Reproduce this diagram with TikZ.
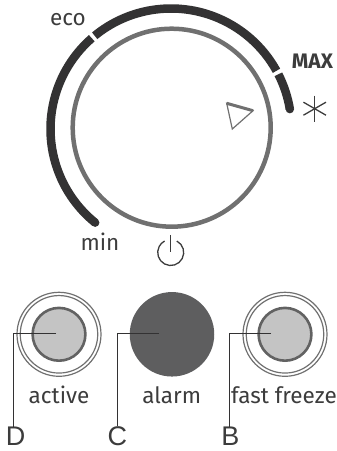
\documentclass[tikz,border=0pt]{standalone}
\usepackage{fontspec}
\usepackage{tikz}
\setmainfont{Fira Sans}
\newfontfamily\leaderfont{Liberation Sans}
\definecolor{scaleDark}{RGB}{51,50,51}
\definecolor{ringGrey}{RGB}{112,112,112}
\definecolor{coreFill}{RGB}{196,196,196}
\definecolor{coreLine}{RGB}{98,98,98}
\definecolor{alarmFill}{RGB}{94,94,95}
\definecolor{textDark}{RGB}{60,60,60}

\begin{document}
\begin{tikzpicture}[x=1pt, y=1pt]%
  \tikzset{dialarc/.style={draw=scaleDark, line width=8.5pt}}
  \tikzset{thinline/.style={draw=textDark, line width=1.3pt}}
  \tikzset{leader/.style={draw=scaleDark, line width=1pt}}
  \tikzstyle{every node}=[inner sep=0pt, outer sep=0pt, text=textDark]
  \tikzset{caption/.style={anchor=base, font=\fontsize{22.5}{24}\selectfont}}
  \tikzset{letter/.style={anchor=base, font=\leaderfont\fontsize{27}{30}\selectfont}}
  \tikzset{ringout/.style={circle, draw=ringGrey, line width=1.2pt, minimum size=84pt}}
  \tikzset{ringin/.style={circle, draw=ringGrey, line width=1.2pt, minimum size=77.5pt}}
  \tikzset{ledcore/.style={circle, draw=coreLine, fill=coreFill, line width=2.6pt, minimum size=52.8pt}}
  \useasboundingbox (0,0) rectangle (337,451);

  \coordinate (scaleC) at (171,322);
  \node[circle, draw=ringGrey, line width=4.5pt, minimum size=198pt] (knob) at (171.7,323.3) {};

  \draw[dialarc] ([shift={(231:120.5pt)}]scaleC) arc[start angle=231, end angle=131.1, radius=120.5pt];
  \draw[dialarc] ([shift={(129.3:120.5pt)}]scaleC) arc[start angle=129.3, end angle=28.9, radius=120.5pt];
  \draw[dialarc] ([shift={(27:120.5pt)}]scaleC) arc[start angle=27, end angle=9.5, radius=120.5pt];
  \fill[scaleDark] ([shift={(231:120.5pt)}]scaleC) circle (4.25pt);
  \fill[scaleDark] ([shift={(9.5:120.5pt)}]scaleC) circle (4.25pt);

  \coordinate (triA) at (226.7,347.7);
  \coordinate (triB) at (253,340.3);
  \coordinate (triC) at (232.3,322);
  \draw[draw=ringGrey, line width=1.2pt, line join=miter] (triA) -- (triB) -- (triC) -- cycle;
  \draw[draw=ringGrey, line width=3pt] (triA) -- (triB);

  \coordinate (star) at (314.7,342.3);
  \foreach \ang in {90,30,150} {
    \draw[thinline] ([shift={(\ang:13pt)}]star) -- ([shift={(\ang+180:13pt)}]star);
  }

  \coordinate (power) at (170.7,198.5);
  \draw[thinline] ([shift={(62:13pt)}]power) arc[start angle=62, end angle=-242, radius=13pt];
  \draw[thinline] (170.7,216) -- (power);

  \node[caption] (eco) at (68,425.7) {eco};
  \node[caption, font=\bfseries\fontsize{21}{24}\selectfont] (max) at (312.5,382.7) {MAX};
  \node[caption] (min) at (100,200.3) {min};

  \node[ringout] (activeO) at (59,116.7) {};
  \node[ringin] (activeI) at (59,116.7) {};
  \node[ledcore] (activeL) at (59,116.7) {};
  \node[circle, fill=alarmFill, minimum size=84.5pt] (alarmL) at (172,116.7) {};
  \node[ringout] (freezeO) at (285,116.7) {};
  \node[ringin] (freezeI) at (285,116.7) {};
  \node[ledcore] (freezeL) at (285,116.7) {};

  \node[caption] (active) at (59,47) {active};
  \node[caption] (alarm) at (171.7,47) {alarm};
  \node[caption] (freeze) at (284,47) {fast freeze};

  \node[letter] (D) at (15.5,5.8) {D};
  \node[letter] (C) at (117.3,5.8) {C};
  \node[letter] (B) at (230.5,5.8) {B};

  \coordinate (leadD) at (56,117);
  \coordinate (leadC) at (159,117);
  \coordinate (leadB) at (271,117);
  \draw[leader] (leadD) -| ([xshift=-1.8pt]D.north);
  \draw[leader] (leadC) -| (C.north);
  \draw[leader] (leadB) -| ([xshift=-1.2pt]B.north);
\end{tikzpicture}
\end{document}
